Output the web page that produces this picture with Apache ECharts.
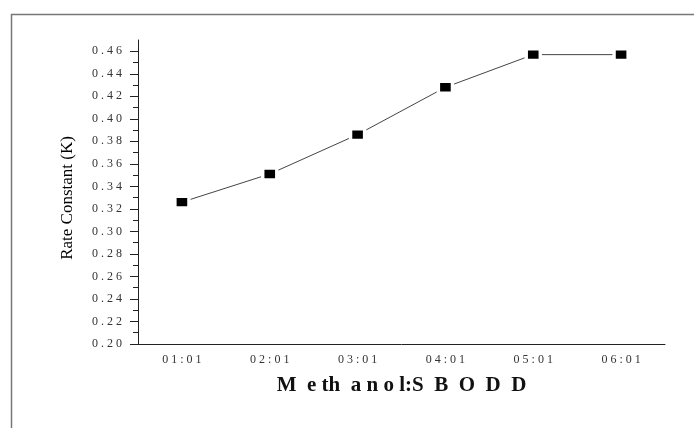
<!DOCTYPE html>
<html>
<head>
<meta charset="utf-8">
<script src="https://cdn.jsdelivr.net/npm/echarts@6/dist/echarts.min.js"></script>
<style>
  html, body { margin: 0; padding: 0; background: #fff; }
  #chart { width: 694px; height: 428px; }
</style>
</head>
<body>
<div id="chart"></div>
<script>
// ratios on x axis
const categories = ['01:01', '02:01', '03:01', '04:01', '05:01', '06:01']
// rate constant K
const rateK = [0.326, 0.351, 0.386, 0.428, 0.457, 0.457]
// labelled y ticks
const yTicks = [0.20, 0.22, 0.24, 0.26, 0.28, 0.30, 0.32, 0.34, 0.36, 0.38, 0.40, 0.42, 0.44, 0.46]

const serif = '"Liberation Serif", "DejaVu Serif", serif'

// old plot software spaces its digits out
const spaced = (s) => s.split('').join(' ')

const chart = echarts.init(document.getElementById('chart'), null, { renderer: 'canvas' })

const option = {
  backgroundColor: '#fff',
  animation: false,
  // frame round the figure
  graphic: [
    {
      type: 'rect',
      left: 9,
      top: 12,
      shape: { width: 720, height: 440 },
      style: { fill: 'none', stroke: '#777', lineWidth: 1.5 },
      silent: true,
    },
  ],
  grid: {
    left: 138,
    right: 29,
    top: 40,
    bottom: 84,
  },
  xAxis: [
    {
      type: 'category',
      data: categories,
      boundaryGap: true,
      name: 'M  e th  a n o l:S  B  O  D  D',
      nameLocation: 'middle',
      nameGap: 31,
      nameTextStyle: {
        fontFamily: serif,
        fontSize: 21,
        fontWeight: 'bold',
        color: '#111',
      },
      axisLine: { lineStyle: { color: '#222', width: 1 } },
      axisTick: {
        alignWithLabel: true,
        length: 5,
        lineStyle: { color: '#222' },
      },
      axisLabel: {
        margin: 10,
        fontFamily: serif,
        fontSize: 12,
        color: '#333',
        formatter: (v) => spaced(v),
      },
      splitLine: { show: false },
    },
    // boundary ticks between categories
    {
      type: 'category',
      data: categories,
      boundaryGap: true,
      position: 'bottom',
      axisLine: { show: false },
      axisTick: { length: 4, lineStyle: { color: '#222' } },
      axisLabel: { show: false },
      splitLine: { show: false },
    },
  ],
  yAxis: {
    type: 'value',
    min: 0.2,
    max: 0.47,
    interval: 0.02,
    name: 'Rate Constant (K)',
    nameLocation: 'middle',
    nameGap: 62,
    nameTextStyle: {
      fontFamily: serif,
      fontSize: 17,
      color: '#000',
      padding: [0, 12, 0, 0],
    },
    axisLine: { show: true, lineStyle: { color: '#222', width: 1 } },
    axisTick: {
      show: true,
      length: 8,
      customValues: yTicks,
      lineStyle: { color: '#222' },
    },
    minorTick: {
      show: true,
      splitNumber: 2,
      length: 5,
      lineStyle: { color: '#222' },
    },
    axisLabel: {
      margin: 16,
      fontFamily: serif,
      fontSize: 12,
      color: '#333',
      customValues: yTicks,
      formatter: (v) => spaced(v.toFixed(2)),
    },
    splitLine: { show: false },
  },
  series: [
    {
      type: 'line',
      data: rateK,
      symbol: 'rect',
      symbolSize: [14, 11],
      lineStyle: { color: '#444', width: 1 },
      itemStyle: { color: '#000', borderColor: '#fff', borderWidth: 3 },
      z: 3,
    },
  ],
}

chart.setOption(option)
</script>
</body>
</html>
